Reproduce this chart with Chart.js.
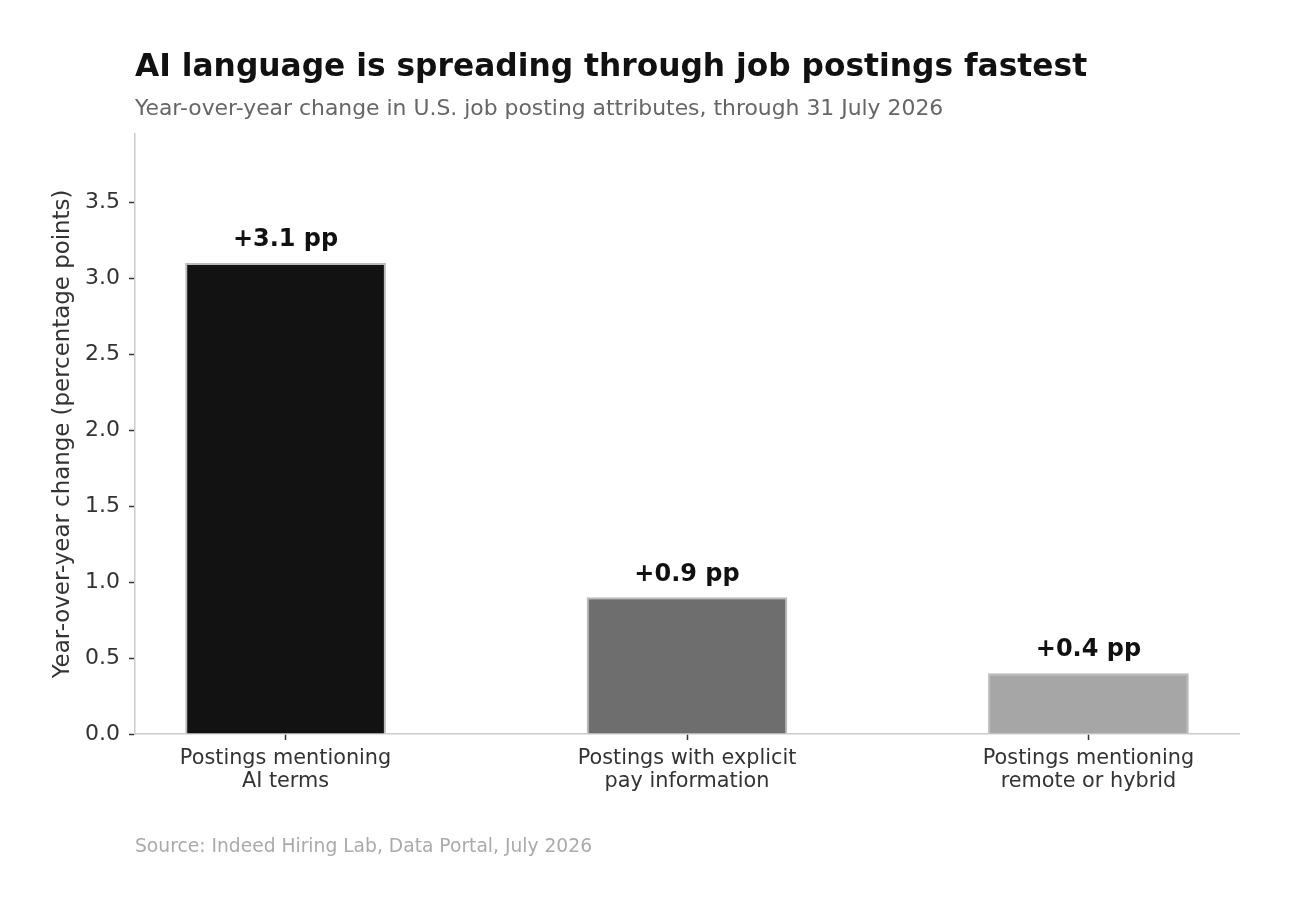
<!DOCTYPE html>
<html>
<head>
<meta charset="utf-8">
<script src="https://cdn.jsdelivr.net/npm/chart.js@4.4.1/dist/chart.umd.min.js"></script>
<style>
  html, body { margin: 0; padding: 0; background: #fff; }
  #wrap { position: relative; width: 1291px; height: 908px; font-family: "DejaVu Sans", sans-serif; }
  #chart { position: absolute; left: 0; top: 0; }
  .txt { position: absolute; left: 135px; white-space: nowrap; line-height: 1; }
  #title { top: 50px; font-size: 31.3px; font-weight: bold; color: #111; }
  #subtitle { top: 97px; font-size: 21.9px; color: #666; }
  #source { top: 837px; font-size: 18.7px; color: #aaa; }
</style>
</head>
<body>
<div id="wrap">
  <canvas id="chart" width="1291" height="908"></canvas>
  <div class="txt" id="title">AI language is spreading through job postings fastest</div>
  <div class="txt" id="subtitle">Year-over-year change in U.S. job posting attributes, through 31 July 2026</div>
  <div class="txt" id="source">Source: Indeed Hiring Lab, Data Portal, July 2026</div>
</div>
<script>
const categories = [
  ["Postings mentioning", "AI terms"],
  ["Postings with explicit", "pay information"],
  ["Postings mentioning", "remote or hybrid"]
];
const changes = [3.1, 0.9, 0.4];
const barColors = ["#121212", "#6e6e6e", "#a6a6a6"];
const yTicks = [0, 0.5, 1.0, 1.5, 2.0, 2.5, 3.0, 3.5];

// labels above each bar
const barLabels = {
  id: "barLabels",
  afterDatasetsDraw(chart) {
    const ctx = chart.ctx;
    const meta = chart.getDatasetMeta(0);
    ctx.save();
    ctx.font = "bold 24px 'DejaVu Sans'";
    ctx.fillStyle = "#111";
    ctx.textAlign = "center";
    ctx.textBaseline = "middle";
    meta.data.forEach((bar, i) => {
      ctx.fillText("+" + changes[i].toFixed(1) + " pp", bar.x, bar.y - 23);
    });
    ctx.restore();
  }
};

new Chart(document.getElementById("chart"), {
  type: "bar",
  data: {
    datasets: [{
      data: changes.map((v, i) => ({ x: i, y: v })),
      backgroundColor: barColors,
      borderColor: "#bbbbbb",
      borderWidth: 2,
      barPercentage: 0.5,
      categoryPercentage: 1
    }]
  },
  options: {
    responsive: false,
    animation: false,
    devicePixelRatio: 1,
    layout: { padding: { left: 40, top: 134, right: 52, bottom: 100 } },
    plugins: { legend: { display: false }, tooltip: { enabled: false } },
    scales: {
      x: {
        type: "linear",
        offset: false,
        min: -0.375,
        max: 2.375,
        afterBuildTicks: s => { s.ticks = categories.map((c, i) => ({ value: i })); },
        afterFit: s => { s.height = 74; },
        grid: { offset: false, drawOnChartArea: false, drawTicks: true, tickLength: 6, tickColor: "#333", tickWidth: 1.5 },
        border: { display: true, color: "#cccccc", width: 1.5 },
        ticks: {
          callback: v => categories[v],
          color: "#333",
          padding: 7,
          maxRotation: 0,
          font: { family: "DejaVu Sans", size: 20.8, lineHeight: 1.12 }
        }
      },
      y: {
        min: 0,
        max: 3.95,
        afterBuildTicks: s => { s.ticks = yTicks.map(v => ({ value: v })); },
        afterFit: s => { s.width = 95; },
        grid: { drawOnChartArea: false, drawTicks: true, tickLength: 6, tickColor: "#333", tickWidth: 1.5 },
        border: { display: true, color: "#cccccc", width: 1.5 },
        ticks: {
          callback: v => v.toFixed(1),
          color: "#333",
          padding: 9,
          font: { family: "DejaVu Sans", size: 22 }
        },
        title: {
          display: true,
          text: "Year-over-year change (percentage points)",
          color: "#333",
          padding: { top: 9, bottom: 0 },
          font: { family: "DejaVu Sans", size: 22.9 }
        }
      }
    }
  },
  plugins: [barLabels]
});
</script>
</body>
</html>
